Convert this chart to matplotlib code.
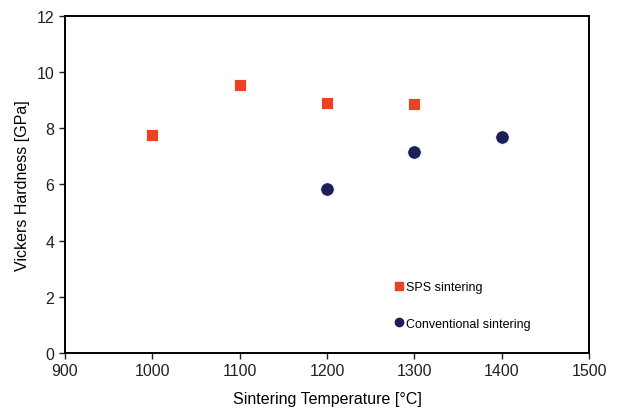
import matplotlib
matplotlib.use("Agg")
import matplotlib.pyplot as plt
from matplotlib.lines import Line2D

plt.rcParams['font.family'] = ['Liberation Sans', 'DejaVu Sans']

sps_temp = [1000, 1100, 1200, 1300]
sps_hv = [7.75, 9.53, 8.91, 8.87]
conv_temp = [1200, 1300, 1400]
conv_hv = [5.84, 7.15, 7.68]

red = '#EE4124'
navy = '#1C1F5C'

fig = plt.figure(figsize=(6.17, 4.10), dpi=100)
ax = fig.add_axes([0.105, 0.1366, 0.85, 0.822])

ax.scatter(sps_temp, sps_hv, marker='s', s=72, color=red, edgecolors='white', linewidths=0.6, zorder=3)
ax.scatter(conv_temp, conv_hv, marker='o', s=95, color=navy, edgecolors='white', linewidths=0.6, zorder=3)

ax.set_xlim(900, 1500)
ax.set_ylim(0, 12)
ax.set_xticks(range(900, 1501, 100))
ax.set_yticks(range(0, 13, 2))
ax.tick_params(direction='out', length=4, width=1, labelsize=11.5, colors='#222222')
for s in ax.spines.values():
    s.set_linewidth(1.4)

ax.set_xlabel('Sintering Temperature [°C]', fontsize=11.5, labelpad=9)
ax.set_ylabel('Vickers Hardness [GPa]', fontsize=11.5, labelpad=5)

handles = [
    Line2D([], [], linestyle='none', marker='s', markersize=5.5, color=red),
    Line2D([], [], linestyle='none', marker='o', markersize=6, color=navy),
]
ax.legend(handles, ['SPS sintering', 'Conventional sintering'], frameon=False,
          loc='upper left', bbox_to_anchor=(0.62, 0.228), fontsize=9,
          handlelength=0.6, handletextpad=0.3, labelspacing=1.95, borderaxespad=0)

fig.savefig('out.png', dpi=100)
